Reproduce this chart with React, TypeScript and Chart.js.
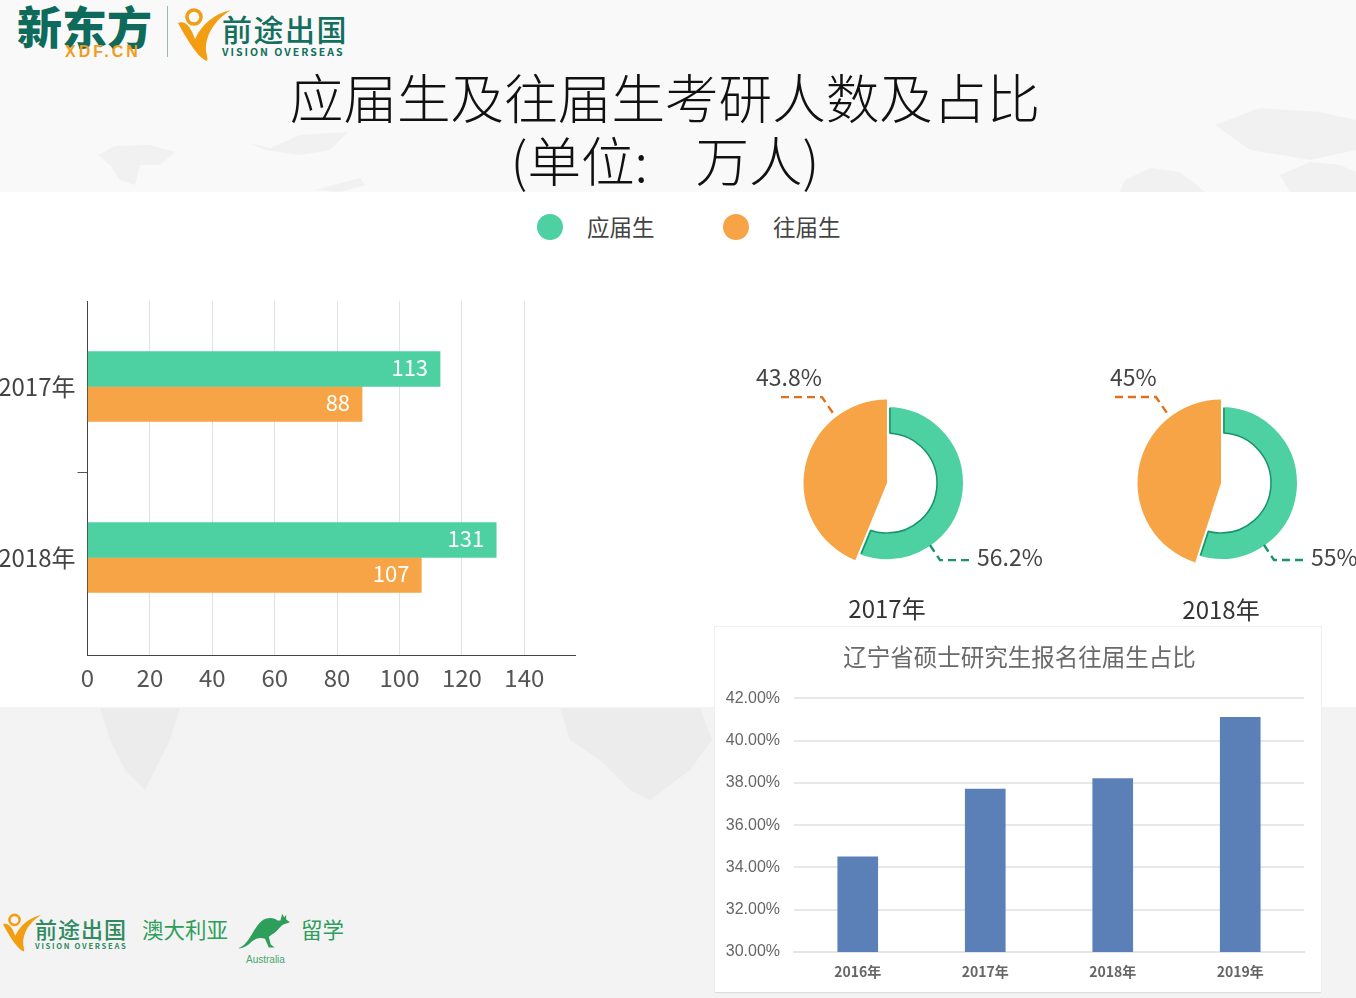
import React, { useEffect, useRef } from "react";
import { Chart, registerables } from "chart.js";

Chart.register(...registerables);

const CJK = '"Noto Sans CJK SC", "Noto Sans", sans-serif';

const legendLabels = ["应届生", "往届生"];
const green = "#4dd0a2";
const orange = "#f6a445";
const mainTitleLines = ["应届生及往届生考研人数及占比", "(单位:    万人)"];

const barYears = ["2017年", "2018年"];
const freshValues = [113, 131];
const pastValues = [88, 107];

const donutYears = ["2017年", "2018年"];
const donutFresh = [56.2, 55];
const donutPast = [43.8, 45];
const donutFreshLabels = ["56.2%", "55%"];
const donutPastLabels = ["43.8%", "45%"];

const liaoningTitle = "辽宁省硕士研究生报名往届生占比";
const liaoningYears = ["2016年", "2017年", "2018年", "2019年"];
const liaoningShares = [34.5, 37.7, 38.2, 41.1];

function ChartCanvas({ make, style }: { make: () => any; style: React.CSSProperties }) {
  const ref = useRef<HTMLCanvasElement | null>(null);
  useEffect(() => {
    const chart = new Chart(ref.current as HTMLCanvasElement, make());
    return () => chart.destroy();
  }, []);
  return (
    <div style={{ position: "absolute", ...style }}>
      <canvas ref={ref} style={{ width: "100%", height: "100%", display: "block" }} />
    </div>
  );
}

const barValueLabels = {
  id: "barValueLabels",
  afterDatasetsDraw(chart: any) {
    const { ctx } = chart;
    ctx.save();
    ctx.font = `22px ${CJK}`;
    ctx.fillStyle = "#ffffff";
    ctx.textAlign = "right";
    ctx.textBaseline = "middle";
    chart.data.datasets.forEach((ds: any, i: number) => {
      chart.getDatasetMeta(i).data.forEach((el: any, j: number) => {
        ctx.fillText(String(ds.data[j].x), el.x - 12, el.y - 1);
      });
    });
    ctx.restore();
  },
};

function makeBarConfig() {
  const toPoints = (arr: number[]) => arr.map((x, y) => ({ x, y }));
  return {
    type: "bar",
    data: {
      datasets: [
        { label: legendLabels[0], data: toPoints(freshValues), backgroundColor: green, barThickness: 35 },
        { label: legendLabels[1], data: toPoints(pastValues), backgroundColor: orange, barThickness: 35 },
      ],
    },
    plugins: [barValueLabels],
    options: {
      indexAxis: "y",
      animation: false,
      responsive: false,
      layout: { padding: { top: 109, right: 125, bottom: 0, left: 0 } },
      plugins: { legend: { display: false }, tooltip: { enabled: false } },
      scales: {
        x: {
          type: "linear",
          min: 0,
          max: 156.25,
          afterFit: (s: any) => { s.height = 52; },
          grid: { color: "#e2e2e2", lineWidth: 1, drawTicks: false },
          border: { color: "#444", width: 1 },
          ticks: {
            stepSize: 20,
            includeBounds: false,
            maxRotation: 0,
            padding: 8,
            color: "#555",
            font: { family: CJK, size: 24 },
          },
        },
        y: {
          type: "linear",
          reverse: true,
          offset: false,
          min: -0.5,
          max: 1.57,
          afterFit: (s: any) => { s.width = 87.5; },
          afterBuildTicks: (s: any) => { s.ticks = [{ value: 0 }, { value: 0.5 }, { value: 1 }]; },
          grid: {
            offset: false,
            drawOnChartArea: false,
            tickLength: 10,
            tickColor: (c: any) => (c.tick && c.tick.value === 0.5 ? "#555" : "rgba(0,0,0,0)"),
          },
          border: { color: "#444", width: 1 },
          ticks: {
            autoSkip: false,
            padding: 2,
            color: "#444",
            font: { family: CJK, size: 24 },
            callback: (v: number) => (Number.isInteger(v) ? barYears[v] : ""),
          },
        },
      },
    },
  };
}

const donutShape = {
  id: "donutShape",
  afterDatasetsUpdate(chart: any) {
    const [fresh, past] = chart.getDatasetMeta(0).data;
    fresh.innerRadius = 48;
    fresh.outerRadius = 78;
    past.innerRadius = 0;
    past.outerRadius = 83.5;
  },
  afterDatasetsDraw(chart: any, _a: any, opts: any) {
    const { ctx } = chart;
    const [fresh] = chart.getDatasetMeta(0).data;
    const cx = fresh.x;
    const cy = fresh.y;
    ctx.save();
    ctx.strokeStyle = "#17936e";
    ctx.lineWidth = 1.5;
    ctx.beginPath();
    ctx.arc(cx, cy, 50, fresh.startAngle + 0.05, fresh.endAngle - 0.05);
    ctx.stroke();
    const edge = (a: number, side: number) => {
      const ox = -Math.sin(a) * 3 * side;
      const oy = Math.cos(a) * 3 * side;
      ctx.beginPath();
      ctx.moveTo(cx + ox + 50 * Math.cos(a), cy + oy + 50 * Math.sin(a));
      ctx.lineTo(cx + ox + 75 * Math.cos(a), cy + oy + 75 * Math.sin(a));
      ctx.stroke();
    };
    edge(fresh.startAngle, 1);
    edge(fresh.endAngle, -1);
    const line = (color: string, pts: number[][]) => {
      ctx.strokeStyle = color;
      ctx.lineWidth = 2.4;
      ctx.setLineDash([8, 5]);
      ctx.beginPath();
      pts.forEach(([dx, dy], i) => (i ? ctx.lineTo(cx + dx, cy + dy) : ctx.moveTo(cx + dx, cy + dy)));
      ctx.stroke();
    };
    line("#e0701a", [[-106, -86], [-65, -86], [-52, -67]]);
    line("#17936e", [[43, 62], [53, 77], [86, 77]]);
    ctx.setLineDash([]);
    ctx.font = `23px ${CJK}`;
    ctx.fillStyle = "#444";
    ctx.textBaseline = "middle";
    ctx.textAlign = "left";
    ctx.fillText(opts.pastLabel, cx + opts.pastLabelDx, cy - 106);
    ctx.fillText(opts.freshLabel, cx + 90, cy + 74);
    ctx.restore();
  },
};

function makeDonutConfig(i: number, topPad: number, titleBottom: number, pastLabelDx: number) {
  return {
    type: "doughnut",
    data: {
      labels: legendLabels,
      datasets: [
        {
          data: [donutFresh[i], donutPast[i]],
          backgroundColor: [green, orange],
          borderColor: ["#ffffff", "#ffffff"],
          borderWidth: [4, 0],
        },
      ],
    },
    plugins: [donutShape],
    options: {
      animation: false,
      responsive: false,
      layout: { padding: { top: topPad } },
      plugins: {
        legend: { display: false },
        tooltip: { enabled: false },
        title: {
          display: true,
          position: "bottom",
          text: donutYears[i],
          color: "#333",
          padding: { top: 0, bottom: titleBottom },
          font: { family: CJK, size: 24, weight: "normal" },
        },
        donutShape: { freshLabel: donutFreshLabels[i], pastLabel: donutPastLabels[i], pastLabelDx },
      },
    },
  };
}

function makeLiaoningConfig() {
  return {
    type: "bar",
    data: {
      labels: liaoningYears,
      datasets: [
        {
          label: "往届生占比",
          data: liaoningShares,
          backgroundColor: "#5b80b8",
          barThickness: 40,
        },
      ],
    },
    options: {
      animation: false,
      responsive: false,
      plugins: {
        legend: { display: false },
        tooltip: { enabled: false },
        title: {
          display: true,
          text: liaoningTitle,
          color: "#6a6a6a",
          padding: { top: 16, bottom: 27 },
          font: { family: CJK, size: 23.5, weight: "normal" },
        },
      },
      scales: {
        x: {
          afterFit: (s: any) => { s.height = 41; },
          grid: { display: false },
          border: { color: "#e6e6e6", width: 2 },
          ticks: {
            maxRotation: 0,
            padding: 3,
            color: "#666",
            font: { family: CJK, size: 14, weight: "bold" },
          },
        },
        y: {
          min: 30,
          max: 42,
          afterFit: (s: any) => { s.width = 79; },
          grid: { color: "#e8e8e8", lineWidth: 2, drawTicks: false },
          border: { display: false },
          ticks: {
            stepSize: 2,
            padding: 14,
            color: "#666",
            font: { family: '"Liberation Sans", Arial, sans-serif', size: 16 },
            callback: (v: number) => `${v.toFixed(2)}%`,
          },
        },
        rightSpace: {
          type: "linear",
          position: "right",
          afterFit: (s: any) => { s.width = 20; },
          grid: { display: false },
          border: { display: false },
          ticks: { display: false },
        },
      },
    },
  };
}

const swoosh =
  "M0 17 C8 14 13 22 17 33 C24 18 36 8 53 4 C38 13 27 28 28 45 C29 50 30 53 29 55 C20 52 8 32 0 17 Z";
const kangaroo =
  "M0 36 C12 32 15 16 24 8 C30 3 38 4 41 7 L44 7 L46 0 L48 4 L50 1 L50 6 L54 9 L48 11 C44 12 42 18 36 21 L32 24 L34 32 L38 35 L32 35 L28 26 C22 24 18 26 14 29 C10 33 6 36 0 36 Z";

function Logo({ x, y, s }: { x: number; y: number; s: number }) {
  return (
    <svg
      style={{ position: "absolute", left: x, top: y, overflow: "visible" }}
      width={53 * s}
      height={55 * s}
      viewBox="0 0 53 55"
    >
      <path d={swoosh} fill="#f29d12" />
      <circle cx="16" cy="11" r="7" fill="none" stroke="#f29d12" strokeWidth="3.5" />
    </svg>
  );
}

function Txt(props: {
  x: number;
  y: number;
  size: number;
  color: string;
  children: React.ReactNode;
  weight?: number;
  italic?: boolean;
  family?: string;
  w?: number;
}) {
  const { x, y, size, color, children, weight, italic, family, w } = props;
  return (
    <div
      style={{
        position: "absolute",
        left: x,
        top: y - size * 0.75,
        lineHeight: `${size * 1.5}px`,
        fontSize: size,
        color,
        fontWeight: weight ?? 400,
        fontStyle: italic ? "italic" : "normal",
        fontFamily: family ?? CJK,
        whiteSpace: "pre",
        letterSpacing: w ?? 0,
      }}
    >
      {children}
    </div>
  );
}

function Blobs() {
  return (
    <svg style={{ position: "absolute", left: 0, top: 0 }} width={1356} height={998}>
      <g fill="#f1f1f1">
        <path d="M98 155 L115 146 L150 145 L175 152 L160 165 L140 165 L135 185 L120 180 L110 165 Z" />
        <path d="M250 143 L270 148 L300 135 L348 132 L330 150 L300 155 L265 150 Z" />
        <path d="M315 190 L360 178 L365 185 L340 192 Z" />
        <path d="M1125 180 L1150 168 L1180 172 L1205 192 L1120 192 Z" />
        <path d="M1215 125 L1260 108 L1320 112 L1356 120 L1356 150 L1310 160 L1250 150 Z" />
        <path d="M1280 175 L1310 162 L1340 165 L1356 172 L1356 192 L1290 192 Z" />
      </g>
      <g fill="#ececec">
        <path d="M100 708 L180 708 L170 740 L145 790 L125 770 L110 740 Z" />
        <path d="M560 708 L700 708 L712 740 L690 770 L650 800 L630 790 L600 760 L570 740 Z" />
      </g>
    </svg>
  );
}

export default function App() {
  const titleStyle: React.CSSProperties = {
    position: "absolute",
    left: 0,
    width: 1330,
    textAlign: "center",
    fontSize: 53.6,
    lineHeight: "80px",
    color: "#111",
    fontWeight: 300,
    fontFamily: CJK,
    whiteSpace: "pre",
  };
  return (
    <div
      style={{
        position: "absolute",
        left: 0,
        top: 0,
        width: 1356,
        height: 998,
        overflow: "hidden",
        background: "#f3f3f3",
        fontFamily: CJK,
      }}
    >
      <div style={{ position: "absolute", left: 0, top: 0, width: 1356, height: 192, background: "#f9f9f9" }} />
      <Blobs />
      <div style={{ position: "absolute", left: 0, top: 192, width: 1356, height: 515, background: "#ffffff" }} />

      <Txt x={17} y={26} size={45} color="#0e6b5c" weight={900}>新东方</Txt>
      <Txt x={65} y={52} size={16} color="#f09c1e" weight={700} w={3} family='"Liberation Sans", sans-serif'>XDF.CN</Txt>
      <div style={{ position: "absolute", left: 167, top: 6, width: 1, height: 51, background: "#9db8b0" }} />
      <Logo x={178} y={6} s={1} />
      <Txt x={222} y={28} size={30} color="#136f5e" weight={500} w={1.5}>前途出国</Txt>
      <Txt x={222} y={52} size={10.5} color="#136f5e" weight={700} w={2}>VISION OVERSEAS</Txt>

      <div style={{ position: "absolute", left: 0, top: 0, width: 1356, height: 192, overflow: "hidden" }}>
        <div style={{ ...titleStyle, top: 56 }}>{mainTitleLines[0]}</div>
        <div style={{ ...titleStyle, top: 119 }}>{mainTitleLines[1]}</div>
      </div>

      {[green, orange].map((col, i) => (
        <React.Fragment key={col}>
          <div
            style={{
              position: "absolute",
              left: 537 + i * 186,
              top: 214,
              width: 26,
              height: 26,
              borderRadius: 13,
              background: col,
            }}
          />
          <Txt x={587 + i * 186} y={227} size={22.5} color="#444">{legendLabels[i]}</Txt>
        </React.Fragment>
      ))}

      <ChartCanvas make={makeBarConfig} style={{ left: 0, top: 192, width: 700, height: 515 }} />

      <ChartCanvas make={() => makeDonutConfig(0, 29, 0, -131)} style={{ left: 727, top: 343, width: 320, height: 280 }} />
      <ChartCanvas make={() => makeDonutConfig(1, 27.4, 2.6, -111)} style={{ left: 1061, top: 343, width: 320, height: 284 }} />

      <div
        style={{
          position: "absolute",
          left: 715,
          top: 627,
          width: 606,
          height: 366,
          background: "#fff",
          boxShadow: "0 0 0 1px #efefef",
          borderBottom: "1px solid #dcdcdc",
          boxSizing: "border-box",
        }}
      />
      <ChartCanvas make={makeLiaoningConfig} style={{ left: 715, top: 627, width: 609, height: 366 }} />

      <Logo x={3} y={912} s={0.72} />
      <Txt x={35} y={928} size={22} color="#2f8a5f" weight={500} w={1}>前途出国</Txt>
      <Txt x={35} y={946} size={7.6} color="#2f8a5f" weight={700} w={1.7}>VISION OVERSEAS</Txt>
      <Txt x={142} y={929} size={21.5} color="#2e9e5b">澳大利亚</Txt>
      <svg style={{ position: "absolute", left: 238, top: 913, overflow: "visible" }} width={52} height={38} viewBox="0 0 54 38">
        <path d={kangaroo} fill="#2e9e5b" />
      </svg>
      <Txt x={246} y={959} size={10} color="#4aa76d" family='"Liberation Sans", sans-serif'>Australia</Txt>
      <Txt x={301} y={929} size={21.5} color="#2e9e5b">留学</Txt>
    </div>
  );
}
